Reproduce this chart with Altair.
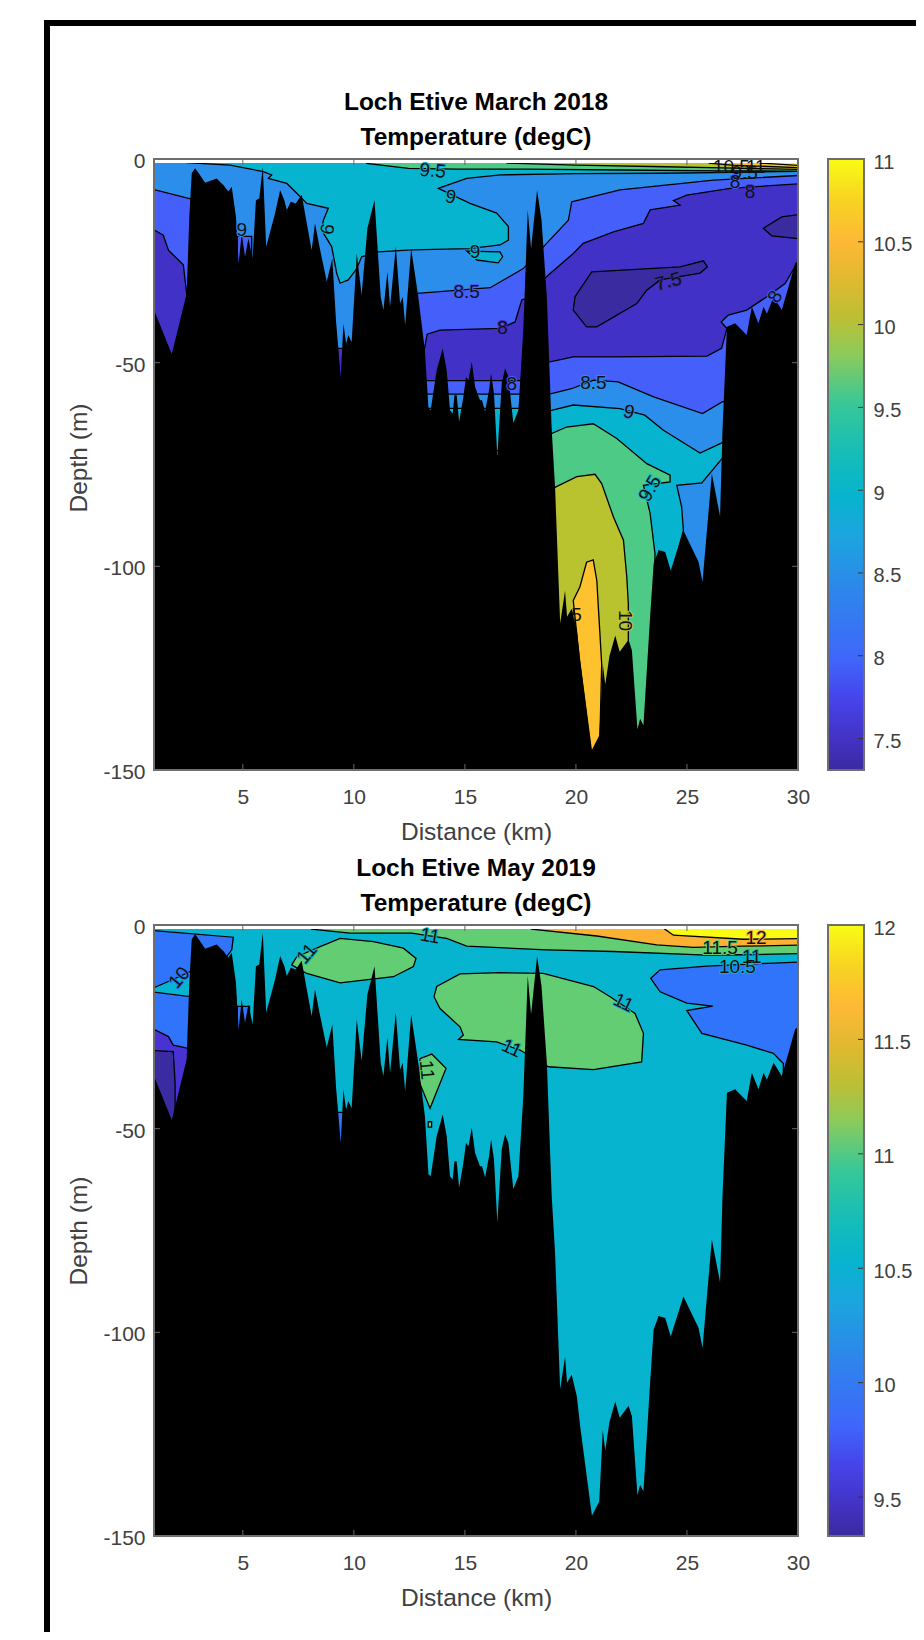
import altair as alt
import pandas as pd

FONT = "Liberation Sans"
X_DOMAIN = [1, 30]
Y_DOMAIN = [-150, 0]
X_TICKS = [5, 10, 15, 20, 25, 30]
Y_TICKS = [-150, -100, -50, 0]
PW, PH = 644, 611

SEABED = [(1.0,-37.1),(1.8,-47.9),(2.47,-33),(2.59,-14.2),(2.7,-3.5),(2.85,-2.3),(3.07,-3.9),(3.3,-5.8),(3.82,-4.8),
(4.12,-6.4),(4.35,-8),(4.5,-6.8),(4.69,-14.2),(4.81,-25.6),(4.95,-18.3),(5.1,-24),(5.25,-19.5),(5.44,-24.4),(5.59,-10.1),
(5.74,-9.7),(5.9,-1.9),(6.05,-21.5),(6.15,-19.5),(6.45,-13.4),(6.68,-7.6),(6.87,-10.1),(6.98,-12.5),(7.16,-10.5),(7.38,-10.9),
(7.65,-8.8),(7.88,-15.8),(8.1,-22.4),(8.25,-15.8),(8.45,-21.5),(8.78,-30.1),(9.03,-24.4),(9.2,-40),(9.41,-53.5),(9.53,-40.4),
(9.65,-45.3),(9.75,-43.2),(9.9,-45),(10.13,-23.2),(10.35,-33.4),(10.61,-17),(10.93,-10.1),(11.21,-33.8),(11.33,-37.1),(11.51,-27.7),
(11.63,-36.3),(11.89,-21.5),(12.08,-35.5),(12.2,-33.8),(12.31,-40.8),(12.58,-22),(12.9,-33.8),(13.2,-47),(13.36,-61.2),(13.46,-61.7),
(13.73,-51.8),(14,-46.5),(14.18,-51.8),(14.33,-61.7),(14.45,-62.5),(14.53,-58),(14.63,-58),(14.74,-64.5),(14.93,-58.4),(15.05,-53.5),
(15.16,-54.3),(15.31,-49.8),(15.46,-56),(15.68,-59.2),(15.77,-59.2),(15.91,-62),(16.09,-56.7),(16.18,-52.6),(16.31,-57.6),(16.46,-73.1),
(16.66,-55),(16.81,-51.4),(16.96,-53.5),(17.18,-64.8),(17.41,-61.7),(17.63,-42),(17.83,-12.5),(17.98,-22),(18.25,-7.6),(18.45,-15),(18.69,-33.8),
(18.91,-66.6),(19.06,-80.5),(19.29,-114),(19.51,-106),(19.6,-112.4),(19.81,-110.4),(20.04,-115.7),(20.19,-123),(20.72,-145),(21.05,-141.5),
(21.21,-124),(21.32,-129),(21.51,-122),(21.77,-117),(21.97,-121),(22.37,-118),(22.52,-120.6),(22.77,-140),(22.89,-137.4),(23.04,-139),
(23.34,-112.4),(23.5,-99.3),(23.72,-96),(24.02,-96.5),(24.27,-101),(24.84,-91.2),(25.52,-98.9),(25.7,-103.8),(26.12,-77.2),(26.49,-87.7),
(26.6,-66.6),(26.8,-41.2),(27.17,-40.3),(27.69,-43.2),(27.92,-36.3),(28.22,-40.3),(28.45,-36.3),(28.6,-38),(28.9,-33.8),(29.27,-37.1),
(29.57,-31.4),(29.87,-25.6),(30,-25)]

DARK, INDIGO, ROYAL, LIGHT, CYAN = "#3a2ca0", "#4231c6", "#4560fa", "#2b8eea", "#06b4cf"
GREEN, OLIVE, ORANGE, YELLOW = "#4dca86", "#b9c22f", "#fec22e", "#f9fb15"
BLUE2, INDIGO2, GREEN2, ORANGE2 = "#2f74fb", "#4932d4", "#62cd72", "#fdb133"

T_ROYAL_LEFT = [(0.5,-7),(1,-7.5),(2.6,-9.7),(3,-10),(3,-60),(0.5,-60)]
T_INDIGO_LEFT = [(0.5,-17.4),(1,-17.4),(1.42,-18.7),(1.65,-22.4),(2.32,-26),(2.47,-33),(2.6,-40),(2.6,-60),(0.5,-60)]
T_ROYAL_SPOT = [(4.75,-19),(5.4,-19),(5.4,-28),(4.75,-28)]
T_INDIGO_SPOT = [(9.2,-46.5),(9.7,-46.5),(9.7,-56),(9.2,-56)]
T_CYAN_UP = [(2.4,2),(2.47,-0.9),(4.42,-1.5),(5.92,-3.1),(6.3,-3.9),(6.15,-4.75),(6.98,-6),(7.43,-8.4),(7.88,-10.9),(8.85,-12.1),
 (8.63,-15),(8.55,-17.5),(9,-21.5),(9.23,-28.1),(9.38,-30.5),(9.75,-29.7),(10.13,-26.9),(10.35,-24),(11.1,-22.8),(12.6,-22.3),(15.2,-22),
 (16.58,-21.1),(16.96,-19.9),(16.96,-16.6),(16.43,-13.3),(15.23,-10.9),(13.8,-7.2),(15.08,-4.75),(16.6,-3.9),(20,-3.6),(24,-3.5),(27,-3.3),(30.5,-3),(30.5,2)]
T_CYAN_LOOP = [(15.08,-22.6),(16.58,-22.8),(16.7,-24),(16.5,-25.5),(15.54,-24.8)]
T_ROYAL_MAIN = [(12.83,-33),(13.73,-32.6),(16.14,-31.6),(17.63,-26.9),(18.68,-20.7),(19.66,-15),(19.81,-10.5),(21.98,-7.6),(26.2,-5.2),(30.5,-3.9),
 (30.5,-60),(26.6,-59.6),(25.7,-62.5),(23.5,-58.4),(21.9,-54.7),(20.8,-54.3),(19.8,-56.4),(18.9,-57.6),(17.9,-57.7),(13,-57.7)]
T_INDIGO_MAIN_L = [(13.15,-47.5),(13.3,-43),(13.88,-42),(16.6,-41.6),(17.26,-40),(17.56,-34.6),(17.9,-34),(17.9,-54.4),(13,-54.4)]
T_INDIGO_MAIN_R = [(18.1,-32),(18.76,-28.5),(19.88,-23.2),(20.33,-20.7),(21.69,-17.9),(23.04,-15.8),(23.34,-12.5),(24.69,-11.3),(24.39,-10.2),(24.99,-8.85),
 (26.94,-7.2),(30.5,-5.9),(30.5,-25.6),(29.95,-25.6),(29.42,-30.6),(28.6,-33.8),(27.69,-37.1),(26.86,-38.3),(26.54,-40),(26.8,-41.6),(26.56,-46.5),
 (25.9,-48.4),(21.69,-48.6),(19.88,-48.6),(18.83,-49.8),(18.1,-50)]
T_DARK_BLOB = [(20.71,-27.7),(24.69,-26.5),(25.74,-25),(25.92,-26.5),(25.59,-28),(23.79,-29.7),(23.19,-32.2),(22.74,-35.5),(20.94,-41.2),(20.48,-41.2),(19.88,-37.1),(19.96,-33.8)]
T_DARK_RIGHT = [(30.5,-13.3),(29.27,-14.2),(28.44,-17),(28.82,-18.9),(30.5,-19.8)]
T_CYAN_DEEP_L = [(13,-61.2),(18.5,-61.2),(18.5,-85),(13,-85)]
T_GREEN_DEEP_L = [(16.3,-71.6),(16.6,-71.6),(16.6,-78),(16.3,-78)]
T_CYAN_DEEP = [(18.5,-62),(18.9,-61.7),(19.88,-60.4),(21.98,-61.3),(23.1,-62.9),(23.94,-66.6),(25.59,-72.2),(26.57,-69.7),(27,-68),(27,-72),(26.57,-73.6),(25.67,-79.5),
 (24.54,-80.1),(24.76,-85.4),(24.84,-91.2),(24.3,-102),(23,-112),(18.5,-112)]
T_GREEN_DEEP = [(18.5,-68),(18.9,-67.4),(19.58,-65.8),(20.78,-65),(21.84,-68.6),(23.19,-74.8),(24.24,-77.6),(24.24,-79.3),(23.04,-80.1),(23.34,-87),(23.56,-96.9),(23.5,-118),(23,-145),(18.5,-145)]
T_OLIVE_DEEP = [(18.7,-82),(19.1,-80.5),(20.04,-78),(20.86,-77.4),(21.16,-79.7),(21.69,-87.9),(22.14,-93.6),(22.29,-102.6),(22.36,-109.2),(22.36,-122),(21.3,-135),(20,-135),(18.7,-120)]
T_ORANGE_DEEP = [(19.88,-108.4),(20.18,-105),(20.48,-99),(20.78,-98.4),(20.94,-103.5),(21.16,-124),(21.08,-142),(20.71,-147),(20.18,-124)]
T_GREEN_TOP = [(10.5,2),(10.58,-1.1),(12.46,-2.3),(14.63,-2.5),(17.7,-2.5),(22,-2.7),(26.5,-2.9),(30.5,-3),(30.5,2)]
T_OLIVE_TOP = [(16.8,2),(16.9,-1),(20,-1.5),(24,-1.9),(26.6,-2.2),(30.5,-2.6),(30.5,2)]
T_ORANGE_TOP = [(25.9,2),(26,-1),(27,-1.5),(30.5,-2.2),(30.5,2)]
T_YELLOW_TOP = [(28.2,2),(28.3,-1),(30.5,-1.7),(30.5,2)]

TOP_POLYS = [(T_ROYAL_LEFT,ROYAL),(T_INDIGO_LEFT,INDIGO),(T_ROYAL_SPOT,ROYAL),(T_INDIGO_SPOT,INDIGO),
 (T_CYAN_UP,CYAN),(T_CYAN_LOOP,CYAN),(T_ROYAL_MAIN,ROYAL),(T_INDIGO_MAIN_L,INDIGO),(T_INDIGO_MAIN_R,INDIGO),
 (T_DARK_BLOB,DARK),(T_DARK_RIGHT,DARK),(T_CYAN_DEEP_L,CYAN),(T_GREEN_DEEP_L,GREEN),(T_CYAN_DEEP,CYAN),(T_GREEN_DEEP,GREEN),
 (T_OLIVE_DEEP,OLIVE),(T_ORANGE_DEEP,ORANGE),(T_GREEN_TOP,GREEN),(T_OLIVE_TOP,OLIVE),(T_ORANGE_TOP,ORANGE),(T_YELLOW_TOP,YELLOW)]

TOP_LABELS = [("9.5",13.55,-2.9,5,CYAN),("9",14.36,-9.3,12,CYAN),("9",4.95,-17.4,0,LIGHT),("9",8.78,-17.2,100,CYAN),("9",15.46,-22.8,0,CYAN),
 ("8.5",15.08,-32.6,0,ROYAL),("8",16.7,-41.4,0,INDIGO),("7.5",24.16,-30.1,345,DARK),("8.5",20.79,-55,0,LIGHT),("9",22.39,-62.1,15,LIGHT),
 ("9.5",23.34,-80.9,300,CYAN),("10",22.21,-113.3,90,OLIVE),("8",17.11,-55.3,0,ROYAL),("8",28.97,-33.8,300,ROYAL),("8",27.84,-8,0,INDIGO),("8",27.17,-5.6,0,ROYAL)]
TOP_CLUSTER = [("10.5",27.0,-1.9,0),("11",28.1,-2,0),("9.5",27.6,-3.4,0),("5",20.03,-112,0)]

B_BLUE_LEFT = [(0.5,-1.3),(1,-1.4),(4.57,-3),(4.5,-6.1),(4.27,-7.8),(3.5,-9),(3,-60),(0.5,-60)]
B_CYAN_TONGUE = [(0.5,-15.7),(1,-15.4),(1.8,-13.5),(2.8,-11),(2.8,-17.7),(1,-16.5),(0.5,-16)]
B_INDIGO_LEFT = [(0.5,-25.4),(1,-25.6),(1.65,-27.4),(1.87,-29.5),(2.55,-30.3),(2.8,-30.3),(2.8,-60),(0.5,-60)]
B_DARK_LEFT = [(0.5,-30.7),(1.87,-31.1),(1.95,-38.9),(1.95,-55),(0.5,-55)]
B_BLUE_SPOT_A = [(4.75,-20),(5.3,-20),(5.3,-27),(4.75,-27)]
B_BLUE_SPOT_B = [(9.2,-46),(9.7,-46),(9.7,-56),(9.2,-56)]
B_GREEN_A = [(7.2,-9.8),(7.43,-7.8),(8.48,-5.3),(9.38,-3.3),(10.88,-4.1),(12.23,-5.7),(12.8,-8.2),(12.68,-10.2),(11.78,-12.7),(9.38,-14.2),(7.88,-11.9)]
B_GREEN_B = [(16.6,-11.7),(14.78,-12),(13.73,-15.1),(13.61,-17.6),(13.88,-20.5),(14.78,-25),(14.93,-27),(14.71,-28.1),(16.43,-28.7),(17.48,-30.7),(18.76,-34.8),
 (20.79,-35.5),(22.96,-33.6),(23.04,-26.6),(22.66,-21.7),(21.54,-17.6),(20.79,-15.1),(18.53,-11.9)]
B_GREEN_C = [(12.98,-32.8),(13.51,-31.7),(14.15,-35.2),(13.43,-45),(12.9,-38)]
B_GREEN_D = [(13.35,-48.3),(13.5,-48.3),(13.5,-49.6),(13.35,-49.6)]
B_GREEN_TOP = [(8,2),(8.1,-1),(9.83,-2),(12.6,-2),(14.18,-3.3),(15.08,-5.2),(18.68,-6.1),(21.69,-6.5),(25.9,-7.4),(27.5,-7.3),(30.5,-7),(30.5,2)]
B_ORANGE_TOP = [(17.9,2),(18,-1),(20.94,-2.7),(23.64,-4.9),(25.29,-5.5),(27.5,-5.2),(30.5,-4.9),(30.5,2)]
B_YELLOW_TOP = [(23.9,2),(24,-1),(24.39,-2.5),(27.54,-3.5),(30.5,-3.3),(30.5,2)]
B_BLUE_RIGHT = [(30.5,-9),(28.6,-9.4),(25.9,-10.1),(23.79,-11),(23.37,-13.1),(23.79,-16.4),(24.99,-19.2),(26.16,-19.9),(24.99,-21),(25.67,-26.6),(27.69,-29.5),
 (28.89,-31.5),(29.34,-34),(29.34,-40),(30.5,-40)]

BOT_POLYS = [(B_BLUE_LEFT,BLUE2),(B_CYAN_TONGUE,CYAN),(B_INDIGO_LEFT,INDIGO2),(B_DARK_LEFT,DARK),(B_BLUE_SPOT_A,BLUE2),(B_BLUE_SPOT_B,BLUE2),
 (B_GREEN_A,GREEN2),(B_GREEN_B,GREEN2),(B_GREEN_C,GREEN2),(B_GREEN_D,GREEN2),(B_GREEN_TOP,GREEN2),(B_ORANGE_TOP,ORANGE2),(B_YELLOW_TOP,YELLOW),(B_BLUE_RIGHT,BLUE2)]

BOT_LABELS = [("10",2.14,-12.9,310,BLUE2),("11",7.88,-7,310,CYAN),("11",13.43,-2.7,10,CYAN),("11",22.14,-19.1,25,CYAN),("11",17.11,-30.3,25,CYAN),("11",13.28,-35.6,85,GREEN2),
 ("11.5",26.49,-5.7,0,GREEN2),("12",28.11,-3.3,0,ORANGE2),("11",27.92,-7.9,0,CYAN),("10.5",27.27,-10.4,0,CYAN)]
BOT_CLUSTER = []

CBAR_STOPS = [(0,"#3b2a9e"),(.05,"#4332c4"),(.12,"#4645ec"),(.18,"#3f66fb"),(.3,"#2c88ea"),(.38,"#1ca4df"),(.45,"#06b4ce"),(.52,"#16bdb7"),
 (.6,"#38c897"),(.68,"#8ccb5a"),(.74,"#bcbf35"),(.8,"#dfb930"),(.865,"#feb836"),(.93,"#f7d224"),(1,"#f9fb15")]
CBAR_TOP = dict(lo=7.31, hi=11, ticks=[7.5,8,8.5,9,9.5,10,10.5,11])
CBAR_BOT = dict(lo=9.33, hi=12, ticks=[9.5,10,10.5,11,11.5,12])

BOX = "#6e6e6e"
TXT = "#404040"
xs = alt.Scale(domain=X_DOMAIN, nice=False, zero=False)
ys = alt.Scale(domain=Y_DOMAIN, nice=False, zero=False)

x_axis = alt.Axis(values=X_TICKS, title="Distance (km)", labelFontSize=21, labelColor=TXT, titleFontSize=24.5, titleColor=TXT,
                  titleFontWeight="normal", tickSize=0, domain=False, grid=False, labelPadding=16, titlePadding=13, labelFlush=False, labelFont=FONT, titleFont=FONT)

def X(f):
    return alt.X(f, scale=xs, axis=x_axis)

def pdf(pts):
    return pd.DataFrame({"km":[p[0] for p in pts], "depth":[p[1] for p in pts], "i":range(len(pts))})

def panel(title, polys, bg, labels, cluster, title_y):
    y_axis = alt.Axis(values=Y_TICKS, title="Depth (m)", labelFontSize=21, labelColor=TXT, titleFontSize=24.5, titleColor=TXT,
                      titleFontWeight="normal", tickSize=0, domain=False, grid=False, labelPadding=9, titlePadding=11, labelFont=FONT, titleFont=FONT,
                      labelExpr="'' + datum.value", labelOffset=2.5, titleY=title_y)
    def Y(f):
        return alt.Y(f, scale=ys, axis=y_axis)
    box_df = pd.DataFrame({"a":[X_DOMAIN[0]],"b":[X_DOMAIN[1]],"t":[Y_DOMAIN[1]],"u":[Y_DOMAIN[0]],"s":[-1]})
    layers = [alt.Chart(box_df).mark_rect(color=bg).encode(x=X("a:Q"), x2="b:Q", y=Y("t:Q"), y2="u:Q")]
    for pts, col in polys:
        layers.append(alt.Chart(pdf(pts)).mark_line(fill=col, stroke="black", strokeWidth=1.3, interpolate="linear-closed", clip=True).encode(
            x=X("km:Q"), y=Y("depth:Q"), order=alt.Order("i:Q")))
    layers.append(alt.Chart(box_df).mark_rect(color="white").encode(x=X("a:Q"), x2="b:Q", y=Y("t:Q"), y2="s:Q"))
    layers.append(alt.Chart(pdf(SEABED).assign(base=Y_DOMAIN[0])).mark_area(color="black", clip=True, interpolate="linear").encode(
        x=X("km:Q"), y=Y("depth:Q"), y2="base:Q"))
    ldf = pd.DataFrame(labels, columns=["t","km","depth","ang","bg"])
    layers.append(alt.Chart(ldf).mark_text(fontSize=19, font=FONT, strokeWidth=2).encode(
        x=X("km:Q"), y=Y("depth:Q"), text="t:N",
        angle=alt.Angle("ang:Q", scale=None), stroke=alt.Stroke("bg:N", scale=None), fill=alt.Fill("bg:N", scale=None)))
    layers.append(alt.Chart(ldf).mark_text(fontSize=19, font=FONT, color="#111111").encode(
        x=X("km:Q"), y=Y("depth:Q"), text="t:N", angle=alt.Angle("ang:Q", scale=None)))
    if cluster:
        cdf = pd.DataFrame(cluster, columns=["t","km","depth","ang"])
        layers.append(alt.Chart(cdf).mark_text(fontSize=19, font=FONT, color="#111111").encode(
            x=X("km:Q"), y=Y("depth:Q"), text="t:N", angle=alt.Angle("ang:Q", scale=None)))
    xt = pd.DataFrame({"v":X_TICKS})
    yt = pd.DataFrame({"v":Y_TICKS})
    for a, b in ((0, 6), (PH - 6, PH)):
        layers.append(alt.Chart(xt).mark_rule(color="#666666", strokeWidth=1).encode(x=X("v:Q"), y=alt.value(a), y2=alt.value(b)))
    for a, b in ((0, 6), (PW - 6, PW)):
        layers.append(alt.Chart(yt).mark_rule(color="#666666", strokeWidth=1).encode(y=Y("v:Q"), x=alt.value(a), x2=alt.value(b)))
    layers.append(alt.Chart(box_df).mark_rect(filled=False, stroke=BOX, strokeWidth=2, fill=None).encode(x=X("a:Q"), x2="b:Q", y=Y("t:Q"), y2="u:Q"))
    return alt.layer(*layers).properties(width=PW, height=PH, title=alt.TitleParams(
        text=title, font=FONT, fontSize=24.5, fontWeight="bold", color="black", lineHeight=35, anchor="middle", offset=0))

def cbar(spec, frame=False):
    s = alt.Scale(domain=[spec["lo"], spec["hi"]], nice=False, zero=False)
    df = pd.DataFrame({"lo":[spec["lo"]],"hi":[spec["hi"]]})
    grad = alt.Gradient(gradient="linear", x1=0, x2=0, y1=1, y2=0,
                        stops=[alt.GradientStop(offset=o, color=c) for o, c in CBAR_STOPS])
    ax = alt.Axis(values=spec["ticks"], orient="right", title=None, labelFontSize=20, labelColor=TXT, tickSize=0, domain=False, grid=False,
                  labelPadding=9, labelFont=FONT, format="~g", labelOffset=3)
    ly = [alt.Chart(df).mark_rect(color=grad).encode(x=alt.value(0), x2=alt.value(36), y=alt.Y("lo:Q", scale=s, axis=ax), y2="hi:Q"),
          alt.Chart(pd.DataFrame({"v":spec["ticks"]})).mark_rule(color="#333333").encode(
              y=alt.Y("v:Q", scale=s, axis=ax), x=alt.value(30), x2=alt.value(36)),
          alt.Chart(df).mark_rect(filled=False, stroke=BOX, strokeWidth=2, fill=None).encode(
              x=alt.value(0), x2=alt.value(36), y=alt.Y("lo:Q", scale=s, axis=ax), y2="hi:Q")]
    if frame:
        one = pd.DataFrame({"k":[0]})
        ox, oy = 154 + PW + 30, 159
        ly.append(alt.Chart(one).mark_rule(color="black", strokeWidth=6).encode(
            x=alt.value(47 - ox), y=alt.value(20 - oy), y2=alt.value(1640 - oy)))
        ly.append(alt.Chart(one).mark_rule(color="black", strokeWidth=6).encode(
            y=alt.value(23 - oy), x=alt.value(44 - ox), x2=alt.value(924 - ox)))
    return alt.layer(*ly).properties(width=36, height=PH)

top = panel(["Loch Etive March 2018", "Temperature (degC)"], TOP_POLYS, LIGHT, TOP_LABELS, TOP_CLUSTER, PH / 2 - 7)
bot = panel(["Loch Etive May 2019", "Temperature (degC)"], BOT_POLYS, CYAN, BOT_LABELS, BOT_CLUSTER, PH / 2)

chart = alt.concat(top, cbar(CBAR_TOP, frame=True), bot, cbar(CBAR_BOT), columns=2,
                   spacing={"column":30, "row":155}, bounds="flush"
).resolve_scale(x="independent", y="independent").properties(
    autosize=alt.AutoSizeParams(type="none"),
    padding={"left":146,"top":151,"right":762,"bottom":1473}
).configure_view(stroke=None)

chart.save("out.html", embed_options={"renderer": "svg", "actions": False})
